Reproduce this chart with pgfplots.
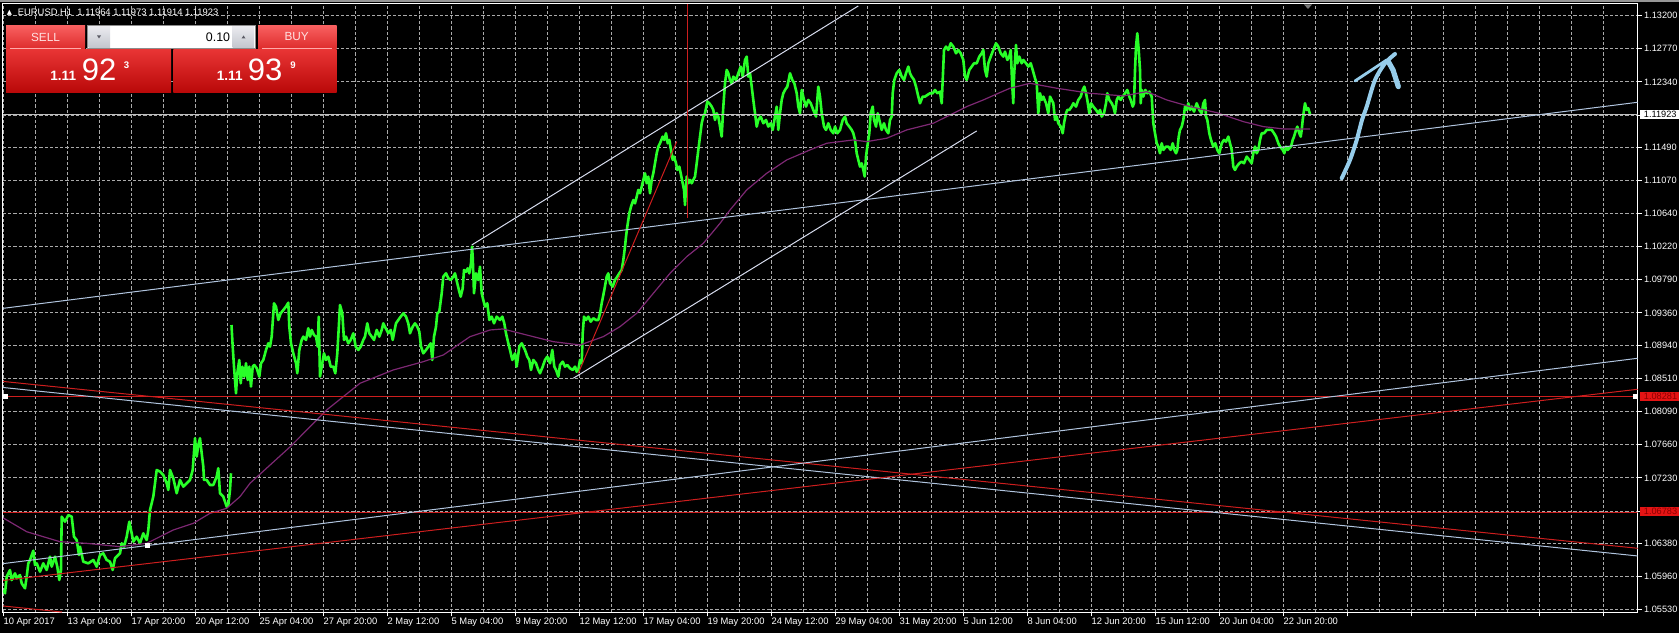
\documentclass[border=0pt]{standalone}
\usepackage{pgfplots}
\pgfplotsset{compat=1.18}
\usepackage{pgfplotstable}
\usepackage{fontspec}
\setmainfont{Liberation Sans}
\newfontfamily\sym{DejaVu Sans}
\definecolor{grn}{RGB}{40,255,40}
\definecolor{purp}{RGB}{125,40,115}
\definecolor{lsb}{RGB}{176,196,222}
\definecolor{chan}{RGB}{215,220,238}
\definecolor{rline}{RGB}{205,30,30}
\definecolor{silv}{RGB}{192,192,192}
\definecolor{gridc}{RGB}{170,170,170}
\definecolor{arrowc}{RGB}{150,205,235}
\definecolor{topbar}{RGB}{150,150,150}
\definecolor{shiftm}{RGB}{120,120,120}
\definecolor{btntop}{RGB}{248,95,95}
\definecolor{btnbot}{RGB}{222,45,45}
\definecolor{btnline}{RGB}{255,170,170}
\definecolor{arrtop}{RGB}{235,235,240}
\definecolor{arrbot}{RGB}{195,198,205}
\definecolor{boxbord}{RGB}{140,140,140}
\definecolor{arrglyph}{RGB}{90,90,100}
\definecolor{btntext}{RGB}{255,225,225}
\definecolor{pxtop}{RGB}{232,52,52}
\definecolor{pxbot}{RGB}{185,8,8}
\definecolor{tagred}{RGB}{228,20,20}
\definecolor{tagtext}{RGB}{140,0,0}

% before the weekend gap
\pgfplotstableread{
x y
3.3 1.05784
5 1.05741
6.7 1.05956
10 1.06042
11.7 1.05913
15 1.05999
16.7 1.05935
20 1.05977
21.7 1.05870
25 1.05806
26.7 1.05956
28.3 1.06128
30 1.06171
33.3 1.06291
35 1.06106
36.7 1.06128
40 1.06020
43.3 1.06128
46.7 1.06042
50 1.06214
51.7 1.06085
55 1.06214
57.3 1.06085
59.3 1.05913
61 1.06042
61.7 1.06730
65 1.06665
68.3 1.06751
71.7 1.06730
74 1.06472
76.7 1.06429
79 1.06235
80 1.06343
83.3 1.06149
88.3 1.06128
93.3 1.06171
96.7 1.06085
100 1.06235
103.3 1.06257
106.7 1.06171
110 1.06149
112.7 1.06042
115 1.06193
120 1.06257
121.7 1.06386
124 1.06343
126.7 1.06472
129.3 1.06665
131.7 1.06515
133.3 1.06407
136.7 1.06472
140 1.06386
143.3 1.06515
146.7 1.06429
148.3 1.06558
150 1.06816
153.3 1.06989
155 1.07161
156.7 1.07333
160 1.07311
163.3 1.07268
166.7 1.07161
168.3 1.07075
170 1.07333
173.3 1.07226
176.7 1.07032
180 1.07204
183.3 1.07118
186.7 1.07161
190 1.07204
192.7 1.07333
195 1.07742
196.7 1.07505
198.3 1.07655
200 1.07742
201.7 1.07548
203.3 1.07376
204 1.07204
206.7 1.07204
210 1.07139
213.3 1.07139
216.7 1.07247
218.3 1.07355
220 1.07032
223.3 1.06989
226.7 1.06859
228.3 1.06880
230 1.07075
231 1.07290
}\priceA

% after the weekend gap
\pgfplotstableread{
x y
231.5 1.09203
232.7 1.08924
234 1.08666
236 1.08322
237.3 1.08580
239.3 1.08752
240.7 1.08451
242.3 1.08666
244.3 1.08537
246 1.08709
247.7 1.08494
249.3 1.08666
251 1.08408
252.7 1.08666
254.3 1.08687
256.7 1.08645
259.3 1.08537
261 1.08709
263.3 1.08752
266 1.08881
268.3 1.08967
270 1.08924
271.7 1.09053
274 1.09483
276 1.09440
278.3 1.09268
280.7 1.09354
283.3 1.09397
286 1.09440
288.3 1.09491
289.3 1.09182
291 1.08967
293.3 1.08838
296 1.08709
297.3 1.08580
299.3 1.08881
301.7 1.09010
303.3 1.09053
306 1.09010
308.3 1.09161
310 1.09053
311.7 1.09139
314 1.09074
316 1.09053
317.7 1.08924
318.7 1.09311
320 1.08537
321.7 1.08666
324 1.08838
326 1.08752
328.3 1.08795
330.7 1.08666
333.3 1.08666
335.3 1.08580
337.3 1.08838
339 1.09225
340 1.09461
342.3 1.09354
344 1.09010
346 1.09053
348.3 1.08967
350.7 1.09010
353.3 1.09096
355.7 1.08924
358.3 1.08881
360.7 1.08924
363.3 1.09010
365 1.09053
367.3 1.09225
369.3 1.09096
371.7 1.09053
374 1.09010
376.7 1.09139
379.3 1.09053
381.7 1.09139
383.3 1.09225
385.7 1.09161
388.3 1.09096
390.7 1.09139
392.7 1.09010
394 1.09096
396 1.09225
398.3 1.09268
400.7 1.09311
403.3 1.09354
406 1.09311
408.3 1.09225
410 1.09096
412.7 1.09182
415 1.09225
417.3 1.09182
419.3 1.09117
421 1.08924
423.3 1.08838
426 1.08881
428.3 1.08924
430.7 1.08967
432.3 1.08752
434 1.09053
436 1.09182
437.3 1.09354
439.3 1.09375
441.7 1.09612
443.3 1.09827
446 1.09870
448.3 1.09806
450.7 1.09784
453.3 1.09827
455 1.09870
457.3 1.09741
459.3 1.09633
460.7 1.09569
462.7 1.09677
464 1.09913
466 1.09891
467.7 1.09935
469.3 1.09870
471 1.09999
472 1.10214
472.7 1.10085
474 1.09612
476 1.09870
478.3 1.09784
480 1.09956
481.7 1.09612
483.3 1.09526
485 1.09440
487.3 1.09483
489.3 1.09268
491.7 1.09311
494 1.09225
496.7 1.09311
500 1.09268
502.3 1.09311
504.3 1.09225
506 1.09096
508.3 1.08967
510 1.08881
512.3 1.08752
515 1.08838
516.7 1.08666
519.3 1.08924
521.7 1.08967
525 1.08881
527.3 1.08795
529.3 1.08752
531 1.08623
533.3 1.08752
536 1.08709
538.3 1.08623
540 1.08580
542.7 1.08666
545 1.08752
547.3 1.08795
550 1.08709
552.3 1.08881
554.3 1.08666
556 1.08623
558.3 1.08537
560 1.08687
562.7 1.08730
565 1.08666
567.3 1.08687
570 1.08645
572.7 1.08623
575 1.08666
576.7 1.08601
578.3 1.08623
580 1.08752
581.7 1.08709
582.7 1.09096
584 1.09311
586 1.09268
588.3 1.09311
590.7 1.09246
593.3 1.09290
596 1.09268
598.3 1.09268
600 1.09354
601.7 1.09483
604.3 1.09655
606.7 1.09827
608.3 1.09870
610 1.09741
612.7 1.09698
615 1.09784
617.3 1.09827
619.3 1.09870
621.7 1.09913
623.3 1.10042
625 1.10214
626 1.10343
627.3 1.10472
629.3 1.10644
631 1.10730
633.3 1.10816
635 1.10773
636.7 1.10860
638.3 1.10946
640 1.10903
641.7 1.10989
643.3 1.11075
645 1.11161
646.7 1.11032
648.3 1.11118
650 1.10903
651.7 1.11075
653.3 1.11161
655 1.11290
656.7 1.11419
658.3 1.11505
660 1.11548
662.7 1.11634
664.3 1.11591
666 1.11677
667.7 1.11548
669.3 1.11591
671 1.11462
672.7 1.11333
674 1.11376
676 1.11290
677.3 1.11204
679.3 1.11247
680.7 1.11161
682.7 1.11032
684 1.10946
685 1.10751
686.7 1.11118
688.3 1.11032
690 1.11075
691.7 1.11032
693.3 1.11075
695 1.11118
696.7 1.11290
698.3 1.11462
700 1.11634
701.7 1.11806
703.3 1.11892
705 1.11935
707.3 1.12085
709.3 1.12064
711.7 1.12021
713.3 1.11978
715 1.11849
716.7 1.11935
718.3 1.11892
720 1.11763
721.7 1.11634
723.3 1.12021
725 1.12322
726.7 1.12494
728.3 1.12451
730 1.12365
731.7 1.12322
733.3 1.12408
736 1.12365
738.3 1.12451
740.7 1.12537
742.7 1.12408
745 1.12623
746.7 1.12666
748.3 1.12408
750 1.12451
751.7 1.12279
753.3 1.12107
755 1.11935
756.7 1.11763
758.3 1.11849
760.7 1.11892
763.3 1.11806
766 1.11849
768.3 1.11763
770.7 1.11806
772.7 1.11720
775 1.11892
776.7 1.12021
778.3 1.11720
780 1.11935
781.7 1.12107
783.3 1.12193
785 1.12236
787.3 1.12279
790 1.12451
792.3 1.12365
794.3 1.12322
796.7 1.12193
798.3 1.12021
800 1.11935
801.7 1.12236
804 1.12107
806 1.12021
808.3 1.12107
810.7 1.12064
813.3 1.11978
816 1.11892
818.3 1.12279
820 1.12150
821.7 1.11935
824 1.11763
826 1.11720
828.3 1.11806
830.7 1.11720
833.3 1.11677
835 1.11763
837.3 1.11677
840 1.11720
842.7 1.11849
845 1.11892
846.7 1.11806
849.3 1.11763
851.7 1.11720
853.3 1.11677
855 1.11591
856.7 1.11419
858.3 1.11333
860 1.11247
861.7 1.11290
863.3 1.11204
864.7 1.11118
866 1.11376
867.3 1.11505
869.3 1.11677
870.7 1.11935
872.7 1.12021
874 1.11849
876 1.11763
877.7 1.11935
879.3 1.11849
881.7 1.11720
884 1.11806
886 1.11720
888.3 1.11677
890 1.11849
891.7 1.11892
892.7 1.12193
894.3 1.12365
896.7 1.12451
899.3 1.12494
901.7 1.12408
904 1.12365
906 1.12451
908.3 1.12537
910 1.12451
911.7 1.12408
914 1.12365
916 1.12279
918.3 1.12150
920 1.12064
922.7 1.12150
925 1.12150
927.3 1.12171
930 1.12193
932.7 1.12193
935 1.12236
937.3 1.12193
940 1.12214
941.7 1.12064
942.7 1.12365
944 1.12752
946 1.12795
948.3 1.12752
950.7 1.12838
953.3 1.12795
956 1.12709
958.3 1.12752
960.7 1.12709
963.3 1.12623
965 1.12408
966.7 1.12365
969.3 1.12494
971.7 1.12537
974 1.12580
976.7 1.12580
979.3 1.12666
981.7 1.12709
983.3 1.12752
985 1.12494
986.7 1.12408
988.3 1.12580
990.7 1.12666
993.3 1.12752
996 1.12838
998.3 1.12795
1000.7 1.12709
1003.3 1.12666
1005 1.12730
1007.3 1.12623
1009.3 1.12666
1010.7 1.12752
1012.3 1.12279
1013.3 1.12064
1014 1.12408
1016 1.12816
1017.3 1.12580
1019.3 1.12666
1021.7 1.12580
1023.3 1.12623
1026 1.12580
1028.3 1.12537
1030.7 1.12580
1032.7 1.12494
1035 1.12387
1036.7 1.12322
1038.3 1.11935
1040 1.12193
1041.7 1.12107
1043.3 1.12150
1046 1.12064
1048.3 1.11935
1050 1.12150
1051.7 1.12107
1053.3 1.12064
1055 1.11849
1056.7 1.11892
1058.3 1.11806
1060.7 1.11763
1062.7 1.11677
1064 1.11806
1066 1.11935
1067.3 1.11978
1069.3 1.11978
1071.7 1.12021
1073.3 1.12064
1076 1.12021
1078.3 1.12107
1080.7 1.12150
1082.7 1.12236
1084.3 1.12279
1086 1.12193
1087.3 1.12107
1089.3 1.11935
1091 1.12064
1093.3 1.12021
1096 1.11978
1098.3 1.11935
1100 1.11978
1101.7 1.11892
1104 1.11935
1106 1.12064
1107.3 1.12193
1109.3 1.12107
1111.7 1.12064
1113.3 1.12021
1115 1.11935
1116.7 1.12107
1118.3 1.12150
1120.7 1.12107
1122.7 1.12150
1125 1.12193
1127.3 1.12236
1129.3 1.12150
1130.7 1.12107
1132.7 1.12021
1134 1.12064
1135 1.12494
1136 1.12795
1137.3 1.12967
1138.7 1.12752
1140 1.12494
1140.7 1.12064
1141.7 1.12236
1143.3 1.12150
1145.3 1.12236
1147.3 1.12193
1149.3 1.12214
1151.7 1.12150
1153.3 1.11806
1155 1.11677
1156.7 1.11548
1158.3 1.11505
1160 1.11419
1161.7 1.11548
1163.3 1.11462
1166 1.11505
1168.3 1.11505
1170.7 1.11462
1172.7 1.11548
1174.3 1.11462
1176 1.11419
1177.3 1.11462
1178.7 1.11634
1180 1.11720
1181.7 1.11763
1183.3 1.11849
1185 1.12021
1186.7 1.11978
1188.3 1.12064
1190 1.11978
1191.7 1.12021
1194 1.11956
1196.7 1.12064
1199.3 1.11978
1201.7 1.11935
1203.3 1.12064
1205 1.12107
1206 1.11892
1207.3 1.11849
1209.3 1.11677
1211 1.11591
1213.3 1.11505
1215.3 1.11548
1217.3 1.11462
1219.3 1.11419
1221.7 1.11548
1224 1.11591
1226 1.11569
1228.3 1.11634
1230 1.11548
1231.7 1.11462
1233.3 1.11247
1235 1.11204
1236.7 1.11247
1239.3 1.11290
1241.7 1.11311
1244 1.11290
1246.7 1.11376
1249.3 1.11333
1251.7 1.11290
1253.3 1.11419
1255 1.11505
1256.7 1.11419
1258.3 1.11462
1260 1.11591
1261.7 1.11677
1264 1.11677
1266.7 1.11720
1269.3 1.11720
1271.7 1.11720
1274 1.11677
1276 1.11634
1278.3 1.11548
1280 1.11505
1282.7 1.11462
1284.3 1.11419
1286 1.11505
1287.7 1.11462
1289.3 1.11484
1291 1.11505
1292.7 1.11591
1294 1.11634
1296 1.11720
1297.3 1.11763
1299.3 1.11677
1300.7 1.11634
1301.7 1.11720
1302.7 1.11849
1304 1.11978
1305 1.12064
1306.7 1.11978
1308.3 1.12000
1310 1.11923
}\priceB

\pgfplotstableread{
x y
3.3 1.06713
26.7 1.06536
60 1.06407
86.7 1.06386
120 1.06343
146.7 1.06386
173.3 1.06558
193.3 1.06644
210 1.06773
226.7 1.06838
240 1.06989
250 1.07161
290 1.07630
326.7 1.08107
360 1.08451
393.3 1.08623
423.3 1.08730
443.3 1.08816
470 1.09053
490 1.09139
503 1.09152
520 1.09096
553.3 1.08988
580 1.08945
603.3 1.09053
620 1.09182
636.7 1.09354
653.3 1.09612
670 1.09870
686.7 1.10085
703.3 1.10257
720 1.10515
730 1.10687
746.7 1.10946
766.7 1.11161
786.7 1.11333
810 1.11462
826.7 1.11548
853.3 1.11591
866.7 1.11569
886.7 1.11613
906.7 1.11720
933.3 1.11806
950 1.11913
966.7 1.12021
983.3 1.12107
998.3 1.12193
1010 1.12258
1030 1.12322
1056.7 1.12258
1090 1.12193
1123.3 1.12159
1146.7 1.12214
1166.7 1.12107
1190 1.12021
1216.7 1.11943
1243.3 1.11827
1263.3 1.11763
1283.3 1.11733
1310 1.11733
}\ma

\begin{document}
\begin{tikzpicture}
\useasboundingbox (0,0) rectangle (839.5pt,316.5pt);
\fill[black] (0,0) rectangle (839.5pt,316.5pt);
\begin{axis}[
  at={(1.5pt,10.5pt)}, anchor=south west,
  scale only axis, width=817.35pt, height=304pt,
  xmin=3, xmax=1637.7, ymin=1.055, ymax=1.13345,
  axis line style={draw=white, line width=0.5pt},
  grid=both,
  major grid style={draw=gridc, line width=0.5pt, dash pattern=on 1.6pt off 1pt},
  minor grid style={draw=gridc, line width=0.5pt, dash pattern=on 1.6pt off 1pt},
  xtick={3.2,67.2,...,1620},
  minor x tick num=1,
  minor tick length=0pt,
  xticklabels={10 Apr 2017,13 Apr 04:00,17 Apr 20:00,20 Apr 12:00,25 Apr 04:00,27 Apr 20:00,2 May 12:00,5 May 04:00,9 May 20:00,12 May 12:00,17 May 04:00,19 May 20:00,24 May 12:00,29 May 04:00,31 May 20:00,5 Jun 12:00,8 Jun 04:00,12 Jun 20:00,15 Jun 12:00,20 Jun 04:00,22 Jun 20:00,,,,,,},
  ytick={1.132,1.1277,1.1234,1.1191,1.1149,1.1107,1.1064,1.1022,1.0979,1.0936,1.0894,1.0851,1.0809,1.0766,1.0723,1.068,1.0638,1.0596,1.0553},
  yticklabels={1.13200,1.12770,1.12340,,1.11490,1.11070,1.10640,1.10220,1.09790,1.09360,1.08940,1.08510,1.08090,1.07660,1.07230,,1.06380,1.05960,1.05530},
  xtick pos=left, ytick pos=right,
  tick align=outside,
  major tick length=2.2pt,
  tick style={white, line width=0.5pt},
  xticklabel style={anchor=north west, text=white, font=\fontsize{4.7}{5}\selectfont, inner sep=0pt, xshift=0pt, yshift=-0.6pt},
  yticklabel style={anchor=west, text=white, font=\fontsize{4.6}{5}\selectfont, inner sep=0pt, xshift=0.8pt},
  clip mode=individual,
]
\addplot[grn, line width=1.3pt, line join=round] table[x=x,y=y] {\priceA};
\addplot[grn, line width=1.3pt, line join=round] table[x=x,y=y] {\priceB};
\addplot[purp, line width=0.6pt] table[x=x,y=y] {\ma};
\addplot[silv, line width=0.5pt] coordinates {(3,1.11923) (1637.7,1.11923)};
\addplot[rline, line width=0.5pt] coordinates {(3,1.08281) (1637.7,1.08281)};
\addplot[rline, line width=0.5pt] coordinates {(3,1.06783) (1637.7,1.06783)};
\addplot[lsb, line width=0.5pt] coordinates {(3,1.09418) (1637.7,1.12077)};
\addplot[chan, line width=0.5pt] coordinates {(471.7,1.10235) (858.3,1.13320)};
\addplot[chan, line width=0.5pt] coordinates {(573.3,1.08516) (976.7,1.11707)};
\addplot[rline, line width=0.5pt] coordinates {(578.3,1.08580) (676.7,1.11569)};
\addplot[rline, line width=0.5pt] coordinates {(687.3,1.13345) (687.3,1.10584)};
\addplot[lsb, line width=0.5pt] coordinates {(3,1.08397) (1637.7,1.06223)};
\addplot[rline, line width=0.5pt] coordinates {(3,1.08475) (1637.7,1.06322)};
\addplot[lsb, line width=0.5pt] coordinates {(3,1.06124) (1637.7,1.08774)};
\addplot[rline, line width=0.5pt] coordinates {(3,1.05907) (1637.7,1.08374)};
\addplot[rline, line width=0.5pt] coordinates {(3,1.05578) (62,1.05500)};
\addplot[only marks, mark=square*, mark size=1pt, mark options={draw=white, fill=white}] coordinates {(5,1.08281) (1635.7,1.08281) (147.7,1.06356)};
\addplot[arrowc, line width=2pt, line cap=round, line join=round, smooth] coordinates {(1341.7,1.11097) (1350,1.11333) (1356.7,1.11591) (1362,1.11849) (1366.7,1.12021) (1375,1.12365) (1385,1.12580) (1395,1.12700)};
\addplot[arrowc, line width=1.4pt, line cap=round] coordinates {(1355,1.12352) (1386.7,1.12623)};
\addplot[arrowc, line width=2.6pt, line cap=round, line join=round] coordinates {(1388.3,1.12601) (1393,1.12494) (1398.3,1.12279)};
\end{axis}
\begin{scope}[x=0.5pt,y=-0.5pt,yshift=316.5pt]
  \fill[topbar] (0,0) rectangle (1679,2.5);
  \fill[shiftm] (1304,4.5) -- (1312,4.5) -- (1308,9) -- cycle;
  \node[anchor=west, inner sep=0pt, text=white, font=\sym\fontsize{3.4}{4}\selectfont] at (6.5,13) {▲};
  \node[anchor=west, inner sep=0pt, text=white, font=\fontsize{4.7}{5}\selectfont] at (17.5,13.3) {EURUSD,H1\ \ 1.11964 1.11973 1.11914 1.11923};
  \shade[top color=btntop, bottom color=btnbot] (6,26) rectangle (85,48.3);
  \shade[top color=btntop, bottom color=btnbot] (258,26) rectangle (336.7,48.3);
  \draw[btnline, line width=0.4pt] (10,48) -- (81,48);
  \draw[btnline, line width=0.4pt] (262,48) -- (332,48);
  \fill[white] (87.7,25) rectangle (255,48.3);
  \shade[top color=arrtop, bottom color=arrbot] (88.5,26) rectangle (110,47.5);
  \shade[top color=arrtop, bottom color=arrbot] (232.5,26) rectangle (254.2,47.5);
  \draw[boxbord, line width=0.4pt] (87.7,25) rectangle (255,48.3);
  \fill[arrglyph] (97,35.5) -- (101,35.5) -- (99,38.5) -- cycle;
  \fill[arrglyph] (241.5,38.5) -- (245.5,38.5) -- (243.5,35.5) -- cycle;
  \node[anchor=east, inner sep=0pt, text=black, font=\fontsize{6.2}{7}\selectfont] at (230.5,36.8) {0.10};
  \node[inner sep=0pt, text=btntext, font=\fontsize{5.9}{7}\selectfont] at (45.5,37) {SELL};
  \node[inner sep=0pt, text=btntext, font=\fontsize{5.9}{7}\selectfont] at (296.7,37) {BUY};
  \shade[top color=pxtop, bottom color=pxbot] (6,50) rectangle (171,92.7);
  \shade[top color=pxtop, bottom color=pxbot] (173.3,50) rectangle (336.7,92.7);
  \node[anchor=base west, inner sep=0pt, text=white, font=\bfseries\fontsize{6.8}{7}\selectfont] at (50,80.5) {1.11};
  \node[anchor=base west, inner sep=0pt, text=white, font=\fontsize{15.5}{16}\selectfont] at (81.5,80.5) {92};
  \node[anchor=base west, inner sep=0pt, text=white, font=\bfseries\fontsize{4.8}{5}\selectfont] at (123.5,68.5) {3};
  \node[anchor=base west, inner sep=0pt, text=white, font=\bfseries\fontsize{6.8}{7}\selectfont] at (216.5,80.5) {1.11};
  \node[anchor=base west, inner sep=0pt, text=white, font=\fontsize{15.5}{16}\selectfont] at (247.5,80.5) {93};
  \node[anchor=base west, inner sep=0pt, text=white, font=\bfseries\fontsize{4.8}{5}\selectfont] at (290,68.5) {9};
  \fill[white] (1640,110) rectangle (1679,118.7);
  \node[anchor=west, inner sep=0pt, text=black, font=\fontsize{4.6}{5}\selectfont] at (1643.5,114.5) {1.11923};
  \fill[tagred] (1640,392) rectangle (1679,400.6);
  \node[anchor=west, inner sep=0pt, text=tagtext, font=\fontsize{4.6}{5}\selectfont] at (1643.5,396.3) {1.08281};
  \fill[tagred] (1640,507) rectangle (1679,515.6);
  \node[anchor=west, inner sep=0pt, text=tagtext, font=\fontsize{4.6}{5}\selectfont] at (1643.5,511.3) {1.06783};
\end{scope}
\end{tikzpicture}
\end{document}
